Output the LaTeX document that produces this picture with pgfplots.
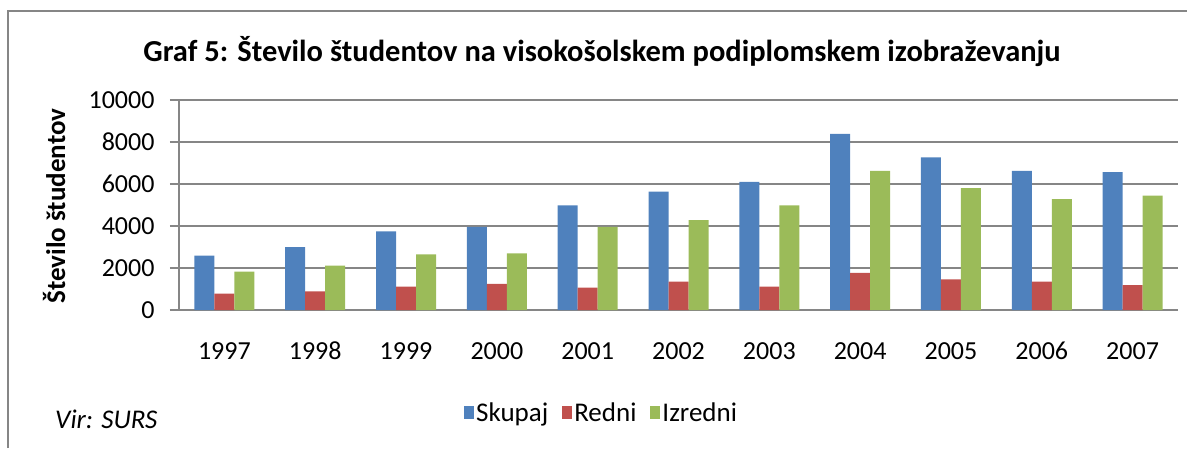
\documentclass[border=0pt]{standalone}
\usepackage{pgfplots}
\pgfplotsset{compat=1.18}
\usepackage{fontspec}
\setmainfont{Carlito}
\definecolor{cblue}{RGB}{79,129,189}
\definecolor{cred}{RGB}{192,80,77}
\definecolor{cgreen}{RGB}{155,187,89}
\definecolor{cgrid}{RGB}{134,134,134}
\begin{document}
\begin{tikzpicture}
\useasboundingbox (0,0) rectangle (1195pt,448pt);
\draw[cgrid, line width=2pt] (8pt,0pt) -- (8pt,437pt) -- (1187pt,437pt);
\begin{axis}[
  at={(179pt,138pt)}, anchor=south west,
  scale only axis, width=999pt, height=210pt,
  xmin=-0.5, xmax=10.5, ymin=0, ymax=10000,
  ybar=0pt, bar width=20pt,
  xtick={0,...,10},
  xticklabels={1997,1998,1999,2000,2001,2002,2003,2004,2005,2006,2007},
  minor xtick={-0.5,0.5,...,10.5},
  ytick={0,2000,...,10000},
  scaled y ticks=false,
  axis x line*=bottom, axis y line*=left,
  axis line style={cgrid, line width=1.5pt, -},
  ymajorgrids, grid style={cgrid, line width=1.5pt},
  tick align=outside, major tick length=9pt, minor tick length=8pt,
  xtick style={draw=none},
  minor x tick style={cgrid, line width=1.5pt},
  ytick style={cgrid, line width=1.5pt},
  /pgf/number format/assume math mode=true,
  /pgf/number format/1000 sep={},
  ticklabel style={font=\fontsize{26}{30}\selectfont},
  xticklabel style={yshift=-20pt, text height=17pt, text depth=0pt},
  yticklabel style={xshift=-12pt},
  legend style={at={(0.423,-0.49)}, anchor=center, draw=none, fill=none,
    legend columns=3, font=\fontsize{27}{31}\selectfont,
    /tikz/every even column/.append style={column sep=12pt}},
  legend image code/.code={\fill[#1] (0pt,-6pt) rectangle (10pt,7pt);},
]
\addplot[fill=cblue, draw=none] coordinates {(0,2590) (1,2990) (2,3750) (3,3960) (4,4980) (5,5640) (6,6100) (7,8390) (8,7270) (9,6630) (10,6570)};
\addplot[fill=cred, draw=none] coordinates {(0,780) (1,890) (2,1110) (3,1240) (4,1070) (5,1350) (6,1110) (7,1770) (8,1460) (9,1350) (10,1180)};
\addplot[fill=cgreen, draw=none] coordinates {(0,1830) (1,2110) (2,2650) (3,2700) (4,3960) (5,4280) (6,4980) (7,6630) (8,5800) (9,5280) (10,5450)};
\legend{Skupaj,Redni,Izredni}
\end{axis}
\node[anchor=base, font=\bfseries\fontsize{30.5}{35}\selectfont] at (602pt,386pt) {Graf 5: Število študentov na visokošolskem podiplomskem izobraževanju};
\node[anchor=base, rotate=90, font=\bfseries\fontsize{27}{31}\selectfont] at (65pt,242pt) {Število študentov};
\node[anchor=base west, font=\itshape\fontsize{27}{31}\selectfont, inner sep=0pt] at (55pt,20pt) {Vir: SURS};
\end{tikzpicture}
\end{document}
